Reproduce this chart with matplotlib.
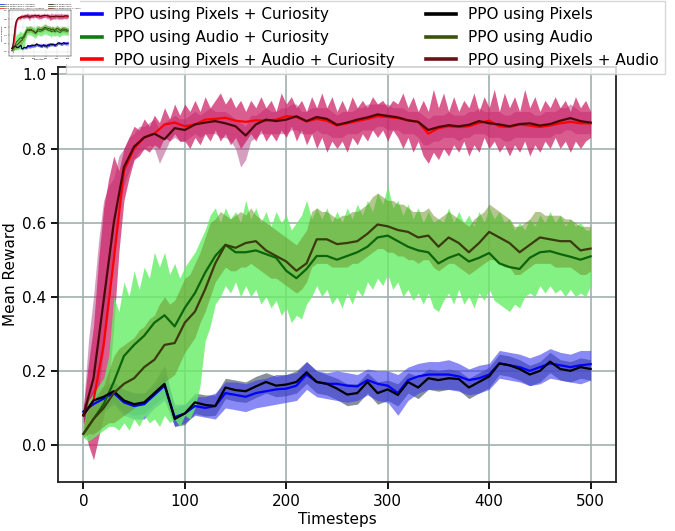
import numpy as np
import matplotlib
matplotlib.use("Agg")
import matplotlib.pyplot as plt
from matplotlib.lines import Line2D

# timesteps: means (and pixel bands) every 10, noisy bands every 5
STEPS = list(range(0, 501, 10))
BAND_STEPS = list(range(0, 501, 5))

# ---- PPO using Pixels + Curiosity (blue)
PC_MEAN = [0.09, 0.11, 0.125, 0.14, 0.115, 0.105, 0.11, 0.135, 0.16, 0.075,
           0.085, 0.105, 0.1, 0.105, 0.14, 0.135, 0.13, 0.14, 0.145, 0.15,
           0.152, 0.16, 0.19, 0.17, 0.165, 0.165, 0.16, 0.158, 0.175, 0.165,
           0.16, 0.14, 0.175, 0.185, 0.19, 0.19, 0.19, 0.185, 0.175, 0.18,
           0.19, 0.22, 0.215, 0.21, 0.2, 0.21, 0.22, 0.215, 0.21, 0.215, 0.218]
PC_HI = [0.11, 0.14, 0.15, 0.16, 0.15, 0.14, 0.14, 0.16, 0.19, 0.11,
         0.11, 0.13, 0.13, 0.14, 0.17, 0.17, 0.165, 0.175, 0.18, 0.19,
         0.19, 0.195, 0.225, 0.2, 0.195, 0.2, 0.195, 0.19, 0.205, 0.2,
         0.2, 0.19, 0.21, 0.22, 0.225, 0.225, 0.23, 0.22, 0.205, 0.215,
         0.22, 0.255, 0.25, 0.245, 0.235, 0.245, 0.26, 0.25, 0.245, 0.255, 0.255]
PC_LO = [0.07, 0.08, 0.09, 0.11, 0.08, 0.07, 0.07, 0.1, 0.12, 0.05,
         0.06, 0.08, 0.075, 0.07, 0.1, 0.095, 0.09, 0.1, 0.105, 0.11,
         0.115, 0.12, 0.15, 0.13, 0.125, 0.12, 0.115, 0.12, 0.135, 0.12,
         0.115, 0.08, 0.12, 0.14, 0.15, 0.15, 0.15, 0.145, 0.135, 0.14,
         0.15, 0.18, 0.175, 0.17, 0.16, 0.165, 0.18, 0.175, 0.17, 0.165, 0.175]

# ---- PPO using Pixels (black)
P_MEAN = [0.08, 0.12, 0.13, 0.145, 0.12, 0.11, 0.115, 0.14, 0.165, 0.07,
          0.085, 0.115, 0.108, 0.105, 0.155, 0.148, 0.145, 0.158, 0.17, 0.16,
          0.163, 0.17, 0.196, 0.17, 0.165, 0.152, 0.136, 0.14, 0.17, 0.14,
          0.15, 0.135, 0.17, 0.155, 0.18, 0.175, 0.18, 0.178, 0.155, 0.17,
          0.185, 0.22, 0.215, 0.205, 0.19, 0.2, 0.225, 0.205, 0.2, 0.21, 0.205]
P_HI = [0.10, 0.15, 0.16, 0.17, 0.15, 0.14, 0.14, 0.17, 0.215, 0.10,
        0.11, 0.14, 0.135, 0.135, 0.18, 0.175, 0.17, 0.185, 0.195, 0.185,
        0.19, 0.2, 0.225, 0.2, 0.19, 0.18, 0.165, 0.165, 0.195, 0.17,
        0.175, 0.165, 0.195, 0.185, 0.205, 0.2, 0.205, 0.2, 0.18, 0.195,
        0.21, 0.245, 0.24, 0.23, 0.215, 0.225, 0.25, 0.23, 0.225, 0.235, 0.23]
P_LO = [0.06, 0.09, 0.10, 0.115, 0.09, 0.08, 0.085, 0.11, 0.13, 0.05,
        0.055, 0.085, 0.078, 0.08, 0.125, 0.118, 0.115, 0.128, 0.14, 0.13,
        0.133, 0.14, 0.166, 0.14, 0.135, 0.122, 0.106, 0.11, 0.14, 0.11,
        0.12, 0.105, 0.14, 0.125, 0.15, 0.145, 0.15, 0.148, 0.125, 0.14,
        0.155, 0.19, 0.185, 0.175, 0.16, 0.17, 0.195, 0.175, 0.17, 0.18, 0.175]

# ---- PPO using Pixels + Audio + Curiosity (red)
PAC_MEAN = [0.08, 0.12, 0.27, 0.50, 0.74, 0.80, 0.83, 0.84, 0.865, 0.87,
            0.86, 0.865, 0.878, 0.88, 0.883, 0.875, 0.872, 0.876, 0.875, 0.878,
            0.887, 0.885, 0.873, 0.88, 0.875, 0.862, 0.868, 0.874, 0.88, 0.887,
            0.885, 0.882, 0.876, 0.872, 0.84, 0.855, 0.86, 0.858, 0.86, 0.869,
            0.875, 0.86, 0.858, 0.865, 0.862, 0.858, 0.862, 0.868, 0.872, 0.868, 0.868]
PAC_LO = [0.06, 0.00, -0.04, 0.02, 0.08, 0.16, 0.32, 0.52, 0.66, 0.72,
          0.77, 0.78, 0.80, 0.79, 0.81, 0.80, 0.83, 0.82, 0.84, 0.82,
          0.82, 0.80, 0.83, 0.81, 0.84, 0.82, 0.85, 0.82, 0.84, 0.81,
          0.83, 0.80, 0.82, 0.84, 0.82, 0.85, 0.82, 0.84, 0.82, 0.85,
          0.83, 0.86, 0.82, 0.85, 0.81, 0.84, 0.80, 0.83, 0.79, 0.82,
          0.80, 0.82, 0.79, 0.83, 0.81, 0.84, 0.82, 0.85, 0.83, 0.85,
          0.82, 0.85, 0.83, 0.80, 0.83, 0.79, 0.82, 0.78, 0.76, 0.79,
          0.77, 0.80, 0.78, 0.81, 0.79, 0.82, 0.78, 0.81, 0.79, 0.83,
          0.80, 0.82, 0.79, 0.81, 0.78, 0.81, 0.79, 0.82, 0.78, 0.81,
          0.79, 0.82, 0.80, 0.83, 0.80, 0.82, 0.79, 0.82, 0.80, 0.82,
          0.83]
PAC_HI = [0.10, 0.22, 0.32, 0.50, 0.64, 0.72, 0.78, 0.74, 0.80, 0.83,
          0.86, 0.85, 0.88, 0.86, 0.89, 0.87, 0.91, 0.88, 0.92, 0.89,
          0.92, 0.90, 0.93, 0.90, 0.94, 0.91, 0.93, 0.95, 0.92, 0.94,
          0.91, 0.93, 0.90, 0.93, 0.91, 0.94, 0.91, 0.93, 0.90, 0.95,
          0.92, 0.94, 0.91, 0.93, 0.90, 0.94, 0.91, 0.95, 0.91, 0.94,
          0.90, 0.93, 0.90, 0.94, 0.91, 0.93, 0.91, 0.94, 0.92, 0.93,
          0.91, 0.93, 0.92, 0.95, 0.91, 0.94, 0.90, 0.93, 0.90, 0.96,
          0.91, 0.95, 0.90, 0.94, 0.90, 0.93, 0.91, 0.95, 0.90, 0.94,
          0.91, 0.96, 0.90, 0.95, 0.91, 0.94, 0.90, 0.96, 0.91, 0.94,
          0.90, 0.93, 0.91, 0.94, 0.91, 0.93, 0.90, 0.94, 0.91, 0.93,
          0.90]

# ---- PPO using Pixels + Audio (dark red)
PA_MEAN = [0.08, 0.18, 0.39, 0.60, 0.75, 0.805, 0.83, 0.84, 0.825, 0.855,
           0.85, 0.865, 0.87, 0.874, 0.868, 0.86, 0.835, 0.865, 0.878, 0.874,
           0.878, 0.887, 0.874, 0.885, 0.88, 0.864, 0.87, 0.878, 0.884, 0.892,
           0.888, 0.884, 0.876, 0.872, 0.85, 0.858, 0.863, 0.86, 0.864, 0.874,
           0.868, 0.865, 0.86, 0.866, 0.868, 0.862, 0.866, 0.875, 0.882, 0.874, 0.87]
PA_LO = [0.07, 0.05, 0.08, 0.15, 0.25, 0.40, 0.52, 0.64, 0.70, 0.74,
         0.77, 0.79, 0.80, 0.81, 0.80, 0.76, 0.79, 0.82, 0.83, 0.82,
         0.82, 0.83, 0.84, 0.83, 0.84, 0.84, 0.84, 0.83, 0.83, 0.82,
         0.80, 0.75, 0.77, 0.82, 0.83, 0.84, 0.84, 0.84, 0.84, 0.84,
         0.84, 0.85, 0.85, 0.84, 0.84, 0.84, 0.85, 0.84, 0.84, 0.83,
         0.83, 0.83, 0.84, 0.84, 0.84, 0.85, 0.85, 0.85, 0.86, 0.86,
         0.85, 0.85, 0.85, 0.84, 0.84, 0.84, 0.83, 0.81, 0.81, 0.82,
         0.82, 0.83, 0.83, 0.83, 0.82, 0.83, 0.83, 0.84, 0.84, 0.84,
         0.83, 0.83, 0.83, 0.82, 0.82, 0.83, 0.83, 0.83, 0.83, 0.83,
         0.83, 0.83, 0.83, 0.84, 0.84, 0.85, 0.85, 0.84, 0.84, 0.84,
         0.84]
PA_HI = [0.10, 0.28, 0.40, 0.55, 0.66, 0.70, 0.72, 0.78, 0.80, 0.83,
         0.84, 0.86, 0.86, 0.87, 0.88, 0.85, 0.87, 0.88, 0.89, 0.88,
         0.88, 0.89, 0.90, 0.89, 0.90, 0.91, 0.90, 0.90, 0.90, 0.89,
         0.88, 0.87, 0.86, 0.89, 0.89, 0.90, 0.91, 0.90, 0.90, 0.91,
         0.91, 0.92, 0.92, 0.90, 0.90, 0.91, 0.91, 0.91, 0.91, 0.90,
         0.89, 0.90, 0.90, 0.90, 0.91, 0.91, 0.92, 0.92, 0.92, 0.92,
         0.92, 0.91, 0.91, 0.91, 0.90, 0.90, 0.90, 0.89, 0.88, 0.89,
         0.89, 0.89, 0.90, 0.89, 0.89, 0.89, 0.90, 0.90, 0.91, 0.90,
         0.90, 0.90, 0.90, 0.89, 0.89, 0.90, 0.90, 0.90, 0.90, 0.89,
         0.89, 0.90, 0.90, 0.90, 0.91, 0.91, 0.92, 0.91, 0.90, 0.90,
         0.90]

# ---- PPO using Audio + Curiosity (green)
AC_MEAN = [0.03, 0.07, 0.11, 0.17, 0.24, 0.27, 0.295, 0.33, 0.35, 0.32,
           0.37, 0.41, 0.465, 0.51, 0.54, 0.52, 0.52, 0.525, 0.515, 0.505,
           0.47, 0.45, 0.475, 0.51, 0.51, 0.5, 0.51, 0.52, 0.535, 0.56,
           0.565, 0.55, 0.535, 0.525, 0.52, 0.49, 0.505, 0.515, 0.495, 0.505,
           0.518, 0.49, 0.48, 0.475, 0.505, 0.52, 0.523, 0.515, 0.508, 0.5, 0.509]
AC_LO = [0.02, 0.01, 0.02, 0.03, 0.04, 0.05, 0.05, 0.04, 0.06, 0.04,
         0.07, 0.05, 0.08, 0.06, 0.07, 0.05, 0.08, 0.06, 0.07, 0.05,
         0.08, 0.07, 0.10, 0.16, 0.28, 0.32, 0.38, 0.40, 0.43, 0.41,
         0.44, 0.40, 0.43, 0.40, 0.42, 0.38, 0.40, 0.37, 0.39, 0.35,
         0.37, 0.33, 0.35, 0.34, 0.38, 0.40, 0.43, 0.40, 0.42, 0.38,
         0.40, 0.37, 0.41, 0.38, 0.42, 0.40, 0.44, 0.42, 0.45, 0.43,
         0.46, 0.42, 0.44, 0.40, 0.42, 0.39, 0.41, 0.38, 0.41, 0.37,
         0.36, 0.39, 0.41, 0.38, 0.42, 0.38, 0.40, 0.37, 0.41, 0.39,
         0.42, 0.39, 0.38, 0.37, 0.36, 0.38, 0.37, 0.40, 0.41, 0.40,
         0.43, 0.41, 0.43, 0.41, 0.42, 0.40, 0.42, 0.40, 0.41, 0.40,
         0.43]
AC_HI = [0.05, 0.12, 0.14, 0.16, 0.18, 0.24, 0.40, 0.36, 0.44, 0.40,
         0.47, 0.42, 0.48, 0.45, 0.52, 0.48, 0.52, 0.46, 0.49, 0.45,
         0.48, 0.50, 0.52, 0.55, 0.58, 0.62, 0.64, 0.60, 0.64, 0.61,
         0.63, 0.60, 0.66, 0.61, 0.64, 0.60, 0.63, 0.59, 0.63, 0.60,
         0.62, 0.58, 0.60, 0.62, 0.66, 0.61, 0.64, 0.61, 0.64, 0.60,
         0.63, 0.60, 0.64, 0.61, 0.65, 0.62, 0.66, 0.63, 0.68, 0.65,
         0.70, 0.64, 0.66, 0.62, 0.65, 0.61, 0.64, 0.60, 0.63, 0.60,
         0.61, 0.60, 0.64, 0.60, 0.63, 0.60, 0.62, 0.59, 0.63, 0.60,
         0.64, 0.61, 0.63, 0.60, 0.61, 0.58, 0.60, 0.58, 0.61, 0.59,
         0.62, 0.60, 0.63, 0.60, 0.62, 0.59, 0.61, 0.59, 0.60, 0.58,
         0.58]

# ---- PPO using Audio (olive)
A_MEAN = [0.03, 0.07, 0.10, 0.14, 0.165, 0.18, 0.21, 0.23, 0.27, 0.275,
          0.33, 0.36, 0.42, 0.49, 0.54, 0.532, 0.545, 0.55, 0.525, 0.51,
          0.495, 0.47, 0.49, 0.555, 0.555, 0.542, 0.545, 0.55, 0.57, 0.595,
          0.59, 0.58, 0.575, 0.56, 0.565, 0.535, 0.56, 0.545, 0.52, 0.545,
          0.575, 0.56, 0.545, 0.52, 0.54, 0.56, 0.555, 0.55, 0.55, 0.525, 0.53]
A_LO = [0.02, 0.03, 0.03, 0.04, 0.05, 0.06, 0.06, 0.07, 0.08, 0.09,
        0.10, 0.11, 0.12, 0.13, 0.14, 0.16, 0.17, 0.18, 0.19, 0.22,
        0.25, 0.27, 0.29, 0.33, 0.36, 0.40, 0.44, 0.46, 0.48, 0.47,
        0.47, 0.48, 0.48, 0.49, 0.48, 0.47, 0.46, 0.45, 0.45, 0.44,
        0.43, 0.42, 0.41, 0.42, 0.44, 0.48, 0.49, 0.49, 0.49, 0.48,
        0.48, 0.48, 0.48, 0.49, 0.49, 0.50, 0.51, 0.52, 0.53, 0.53,
        0.52, 0.52, 0.51, 0.51, 0.50, 0.50, 0.49, 0.50, 0.50, 0.48,
        0.47, 0.48, 0.49, 0.49, 0.48, 0.47, 0.46, 0.47, 0.48, 0.49,
        0.50, 0.50, 0.49, 0.48, 0.48, 0.46, 0.46, 0.47, 0.48, 0.49,
        0.49, 0.49, 0.49, 0.48, 0.48, 0.48, 0.48, 0.47, 0.46, 0.46,
        0.47]
A_HI = [0.05, 0.10, 0.12, 0.14, 0.16, 0.20, 0.24, 0.26, 0.27, 0.28,
        0.29, 0.31, 0.32, 0.34, 0.35, 0.38, 0.40, 0.38, 0.39, 0.42,
        0.45, 0.46, 0.49, 0.52, 0.56, 0.60, 0.61, 0.63, 0.62, 0.61,
        0.62, 0.63, 0.62, 0.64, 0.62, 0.61, 0.60, 0.59, 0.58, 0.57,
        0.56, 0.55, 0.54, 0.56, 0.58, 0.63, 0.64, 0.63, 0.63, 0.62,
        0.61, 0.62, 0.62, 0.63, 0.63, 0.64, 0.65, 0.67, 0.68, 0.67,
        0.66, 0.66, 0.65, 0.65, 0.64, 0.63, 0.63, 0.63, 0.64, 0.62,
        0.61, 0.62, 0.63, 0.62, 0.61, 0.60, 0.59, 0.61, 0.62, 0.63,
        0.65, 0.64, 0.63, 0.62, 0.61, 0.59, 0.59, 0.60, 0.61, 0.63,
        0.63, 0.62, 0.62, 0.62, 0.62, 0.61, 0.61, 0.60, 0.59, 0.59,
        0.59]

LABELS = ["PPO using Pixels + Curiosity", "PPO using Audio + Curiosity",
          "PPO using Pixels + Audio + Curiosity", "PPO using Pixels",
          "PPO using Audio", "PPO using Pixels + Audio"]


def draw_curves(ax, lw=1.6):
    # shaded bands first, in the stacking order seen in the figure
    ax.fill_between(STEPS, P_LO, P_HI, color="#556070", alpha=0.7, lw=0)
    ax.fill_between(STEPS, PC_LO, PC_HI, color="#3c3cf0", alpha=0.6, lw=0)
    ax.fill_between(BAND_STEPS, PA_LO, PA_HI, color="#b04080", alpha=0.5, lw=0)
    ax.fill_between(BAND_STEPS, PAC_LO, PAC_HI, color="#cc1f66", alpha=0.72, lw=0)
    ax.fill_between(BAND_STEPS, AC_LO, AC_HI, color="#66ee66", alpha=0.8, lw=0)
    ax.fill_between(BAND_STEPS, A_LO, A_HI, color="#6b8e23", alpha=0.5, lw=0)

    ax.plot(STEPS, PC_MEAN, color="#0000ff", lw=lw)
    ax.plot(STEPS, AC_MEAN, color="#0b650b", lw=lw)
    ax.plot(STEPS, PAC_MEAN, color="#ff0000", lw=lw)
    ax.plot(STEPS, P_MEAN, color="#000000", lw=lw)
    ax.plot(STEPS, A_MEAN, color="#3a3a0c", lw=lw)
    ax.plot(STEPS, PA_MEAN, color="#4a0808", lw=lw)


def style_axes(ax, fs, lw_grid, lw_spine):
    ax.set_xlim(-25, 525)
    ax.set_ylim(-0.1, 1.02)
    ax.set_xticks([0, 100, 200, 300, 400, 500])
    ax.set_yticks([0.0, 0.2, 0.4, 0.6, 0.8, 1.0])
    ax.grid(True, color="#9fb0ae", lw=lw_grid)
    ax.set_axisbelow(True)
    for s in ax.spines.values():
        s.set_color("#222222")
        s.set_linewidth(lw_spine)
    ax.tick_params(labelsize=fs, width=lw_spine, length=fs * 0.45)
    ax.set_xlabel("Timesteps", fontsize=fs, labelpad=fs * 0.2)
    ax.set_ylabel("Mean Reward", fontsize=fs, labelpad=fs * 0.25)


handle_colors = ["#0000ff", "#127a12", "#ff0000", "#000000", "#3d5210", "#6e1018"]

fig = plt.figure(figsize=(6.75, 5.31), dpi=100)
ax = fig.add_axes([58 / 675, 1 - 482 / 531, 558 / 675, 415 / 531])
draw_curves(ax)
style_axes(ax, 11, 1.2, 1.3)

handles = [Line2D([], [], color=c, lw=2.6) for c in handle_colors]
fig.legend(handles, LABELS, ncol=2, loc="upper right",
           bbox_to_anchor=(0.997, 1.012), fontsize=11,
           handlelength=2.0, columnspacing=2.0, labelspacing=0.5,
           borderpad=0.4, fancybox=False)

# small thumbnail of the figure pasted in the top-left corner
panel = fig.add_axes([0, 1 - 64 / 531, 80 / 675, 64 / 531])
panel.set_facecolor("white")
panel.set_xticks([])
panel.set_yticks([])
for s in panel.spines.values():
    s.set_visible(False)
panel.set_zorder(10)

thumb = fig.add_axes([9 / 675, 1 - 56 / 531, 62 / 675, 46 / 531])
thumb.set_zorder(11)
draw_curves(thumb, lw=0.6)
thumb.set_xlim(-25, 525)
thumb.set_ylim(-0.1, 1.02)
thumb.set_xticks([0, 100, 200, 300, 400, 500])
thumb.set_yticks([0.0, 0.2, 0.4, 0.6, 0.8, 1.0])
thumb.tick_params(labelsize=1.6, width=0.2, length=0.8, pad=0.4)
thumb.grid(True, color="#c0c8c8", lw=0.2)
for s in thumb.spines.values():
    s.set_linewidth(0.3)
thumb.set_xlabel("Timesteps", fontsize=1.6, labelpad=0.3)
thumb.set_ylabel("Mean Reward", fontsize=1.6, labelpad=0.3)
thumb.legend([Line2D([], [], color=c, lw=0.5) for c in handle_colors], LABELS,
             ncol=2, fontsize=1.5, loc="lower center", bbox_to_anchor=(0.5, 0.98),
             frameon=False, handlelength=2, columnspacing=2, labelspacing=0.3)

fig.savefig("out.png", dpi=100)
